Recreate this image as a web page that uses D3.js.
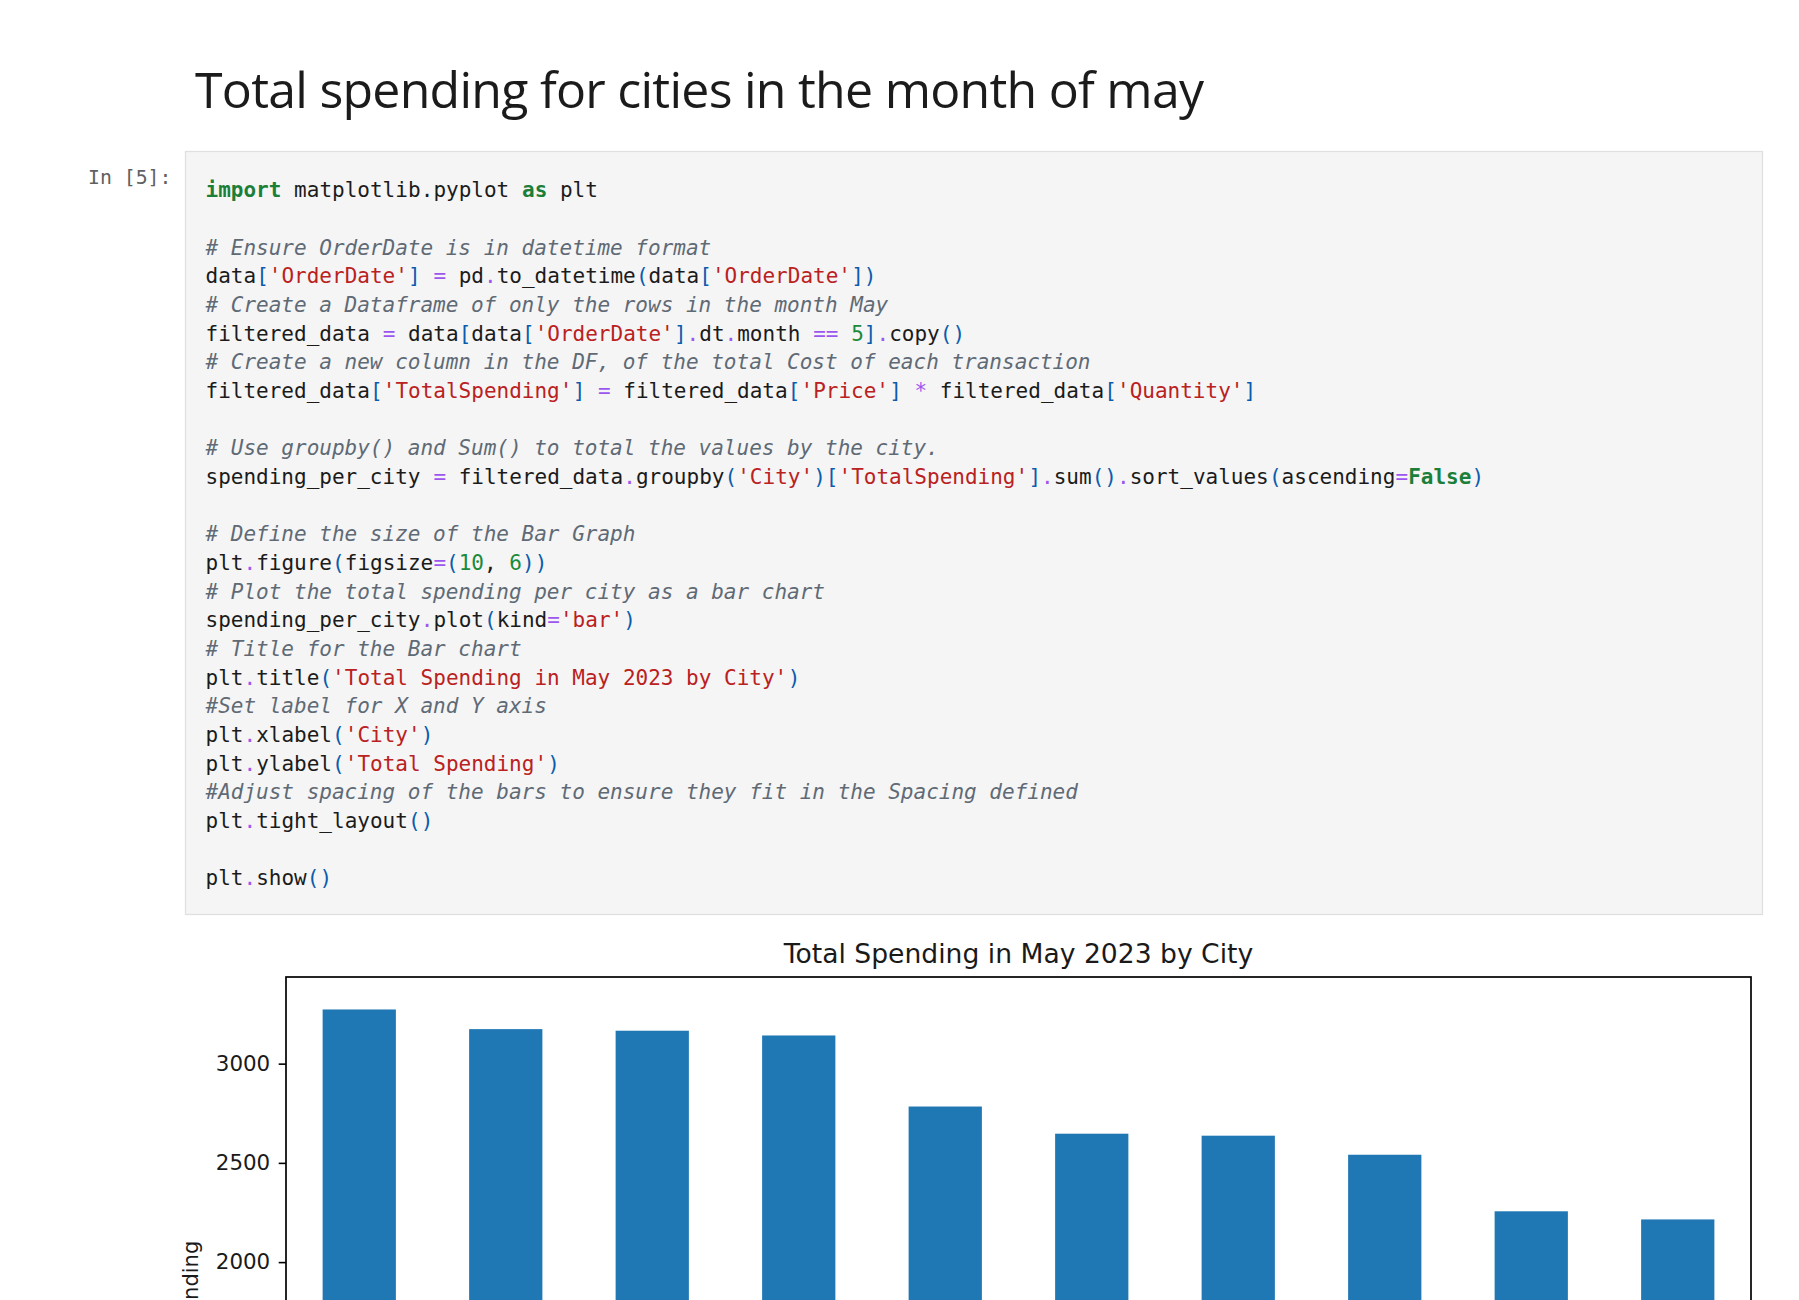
<!DOCTYPE html>
<html>
<head>
<meta charset="utf-8">
<script src="https://cdn.jsdelivr.net/npm/d3@7"></script>
<style>
  html, body { margin: 0; padding: 0; background: #fff; overflow: hidden; }
  svg { display: block; }
</style>
</head>
<body>
<svg id="page" width="1799" height="1300"></svg>
<script>
// ---------- data ----------
// City names sit below the visible crop of the reference (placeholders for the band scale).
const cities = ["City 1", "City 2", "City 3", "City 4", "City 5",
                "City 6", "City 7", "City 8", "City 9", "City 10"];
const spending = [3273, 3174, 3166, 3142, 2784, 2647, 2637, 2541, 2256, 2215];
const yTickValues = [0, 500, 1000, 1500, 2000, 2500, 3000];

const pageTitle = "Total spending for cities in the month of may";
const chartTitle = "Total Spending in May 2023 by City";
const yLabel = "Total Spending";
const promptText = "In [5]:";
const codeLines = [
  "import matplotlib.pyplot as plt",
  "",
  "# Ensure OrderDate is in datetime format",
  "data['OrderDate'] = pd.to_datetime(data['OrderDate'])",
  "# Create a Dataframe of only the rows in the month May",
  "filtered_data = data[data['OrderDate'].dt.month == 5].copy()",
  "# Create a new column in the DF, of the total Cost of each transaction",
  "filtered_data['TotalSpending'] = filtered_data['Price'] * filtered_data['Quantity']",
  "",
  "# Use groupby() and Sum() to total the values by the city.",
  "spending_per_city = filtered_data.groupby('City')['TotalSpending'].sum().sort_values(ascending=False)",
  "",
  "# Define the size of the Bar Graph",
  "plt.figure(figsize=(10, 6))",
  "# Plot the total spending per city as a bar chart",
  "spending_per_city.plot(kind='bar')",
  "# Title for the Bar chart",
  "plt.title('Total Spending in May 2023 by City')",
  "#Set label for X and Y axis",
  "plt.xlabel('City')",
  "plt.ylabel('Total Spending')",
  "#Adjust spacing of the bars to ensure they fit in the Spacing defined",
  "plt.tight_layout()",
  "",
  "plt.show()"
];

const VIEW_H = 1300;

// ---------- page ----------
const svg = d3.select("#page");

// markdown heading
const h1 = svg.append("text")
  .attr("x", 195).attr("y", 108)
  .attr("font-family", "'Open Sans', 'Noto Sans', sans-serif")
  .attr("font-size", 50)
  .attr("fill", "#1b1b1b")
  .text(pageTitle);
{
  const w = h1.node().getComputedTextLength();
  const target = 1009;
  h1.attr("letter-spacing", (target - w) / (pageTitle.length - 1));
}

// prompt
svg.append("text")
  .attr("x", 88).attr("y", 184)
  .attr("font-family", "'DejaVu Sans Mono', monospace")
  .attr("font-size", 19.8)
  .attr("fill", "#616161")
  .text(promptText);

// code cell box
svg.append("rect")
  .attr("x", 185.5).attr("y", 151.5)
  .attr("width", 1577).attr("height", 763)
  .attr("fill", "#f5f5f5").attr("stroke", "#e0e0e0").attr("stroke-width", 1.3);

// simple python tokenizer for highlighting
const COL = {
  text: "#1b1b1b", keyword: "#1b7f3a", number: "#1b8a3a", string: "#ba2121",
  comment: "#5f6a75", op: "#9d55f0", bracket: "#0b5cad"
};
function tokenize(line) {
  const toks = [];
  const isImport = /^import\b/.test(line);
  let i = 0;
  while (i < line.length) {
    const rest = line.slice(i);
    let m;
    if (rest[0] === "#") { toks.push({t: rest, c: "comment"}); break; }
    if ((m = rest.match(/^'[^']*'/))) { toks.push({t: m[0], c: "string"}); i += m[0].length; continue; }
    if ((m = rest.match(/^[A-Za-z_][A-Za-z_0-9]*/))) {
      const kw = ["import", "as", "False", "True", "None"].includes(m[0]);
      toks.push({t: m[0], c: kw ? "keyword" : "text"}); i += m[0].length; continue;
    }
    if ((m = rest.match(/^\d+/))) { toks.push({t: m[0], c: "number"}); i += m[0].length; continue; }
    if ((m = rest.match(/^[=*+\-<>!]+/))) { toks.push({t: m[0], c: "op"}); i += m[0].length; continue; }
    if (rest[0] === ".") { toks.push({t: ".", c: isImport ? "text" : "op"}); i += 1; continue; }
    if (/[\[\]\(\)]/.test(rest[0])) { toks.push({t: rest[0], c: "bracket"}); i += 1; continue; }
    toks.push({t: rest[0], c: "text"}); i += 1;
  }
  return toks;
}

const codeX = 205.5, codeY0 = 197.3, lineH = 28.67, charW = 12.66;
const codeG = svg.append("g")
  .attr("font-family", "'DejaVu Sans Mono', monospace")
  .attr("font-size", 21);
codeLines.forEach((line, li) => {
  if (!line) return;
  const txt = codeG.append("text")
    .attr("y", codeY0 + li * lineH)
    .attr("xml:space", "preserve");
  let col = 0;
  tokenize(line).forEach(tk => {
    const ts = txt.append("tspan")
      .attr("x", codeX + col * charW)
      .attr("fill", COL[tk.c])
      .text(tk.t);
    if (tk.c === "keyword") ts.attr("font-weight", "bold");
    if (tk.c === "comment") ts.attr("font-style", "italic");
    col += tk.t.length;
  });
});

// ---------- chart ----------
const ax = {left: 286, right: 1751, top: 977, bottom: 1659};
const x = d3.scaleBand()
  .domain(cities)
  .range([ax.left, ax.right])
  .paddingInner(0.5)
  .paddingOuter(0.25);
const y = d3.scaleLinear()
  .domain([0, d3.max(spending) * 1.05])
  .range([ax.bottom, ax.top]);

const chart = svg.append("g");

chart.selectAll("rect.bar")
  .data(cities)
  .join("rect")
  .attr("class", "bar")
  .attr("x", d => x(d))
  .attr("width", x.bandwidth())
  .attr("y", (d, i) => y(spending[i]))
  .attr("height", (d, i) => y(0) - y(spending[i]))
  .attr("fill", "#1f77b4");

// axes frame
chart.append("rect")
  .attr("x", ax.left).attr("y", ax.top)
  .attr("width", ax.right - ax.left).attr("height", ax.bottom - ax.top)
  .attr("fill", "none").attr("stroke", "#000").attr("stroke-width", 1.7);

// y axis (only ticks that fall inside the visible page are labelled)
const visibleTicks = yTickValues.filter(v => y(v) < VIEW_H - 10);
const yAxis = chart.append("g")
  .attr("transform", `translate(${ax.left},0)`)
  .call(d3.axisLeft(y).tickValues(visibleTicks).tickFormat(d3.format("d"))
        .tickSize(7.3).tickPadding(8.5).tickSizeOuter(0));
yAxis.select(".domain").remove();
yAxis.selectAll(".tick line").attr("stroke", "#000").attr("stroke-width", 1.6);
yAxis.selectAll(".tick text")
  .attr("font-family", "'DejaVu Sans', sans-serif")
  .attr("font-size", 21.4)
  .attr("fill", "#1a1a1a");

// chart title
chart.append("text")
  .attr("x", (ax.left + ax.right) / 2).attr("y", 963)
  .attr("text-anchor", "middle")
  .attr("font-family", "'DejaVu Sans', sans-serif")
  .attr("font-size", 26.6)
  .attr("fill", "#1a1a1a")
  .text(chartTitle);

// y label (partly visible, as in the reference)
chart.append("text")
  .attr("transform", `translate(198,${(ax.top + ax.bottom) / 2}) rotate(-90)`)
  .attr("text-anchor", "middle")
  .attr("font-family", "'DejaVu Sans', sans-serif")
  .attr("font-size", 21)
  .attr("fill", "#1a1a1a")
  .text(yLabel);
</script>
</body>
</html>
